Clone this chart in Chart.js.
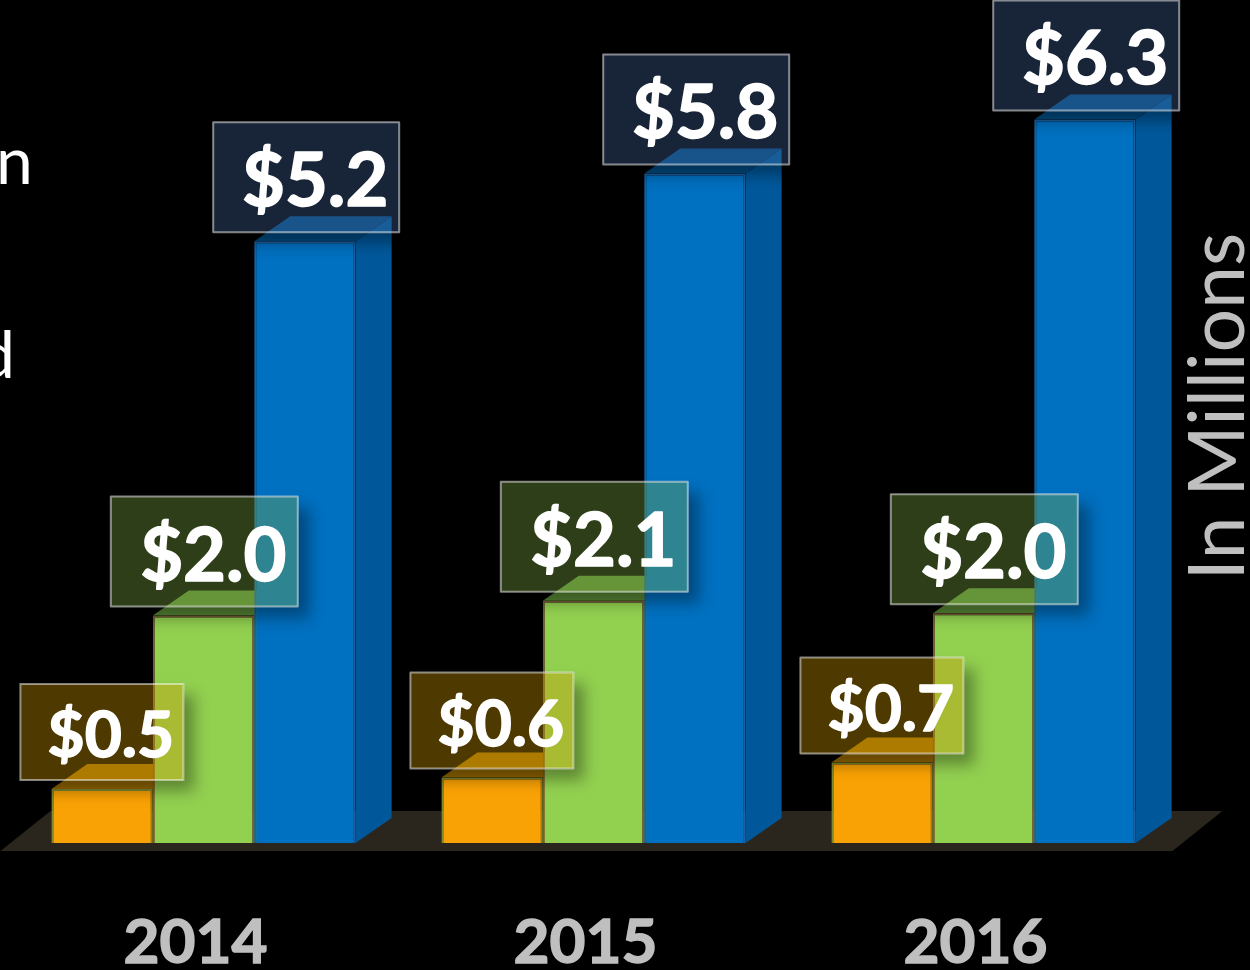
<!DOCTYPE html>
<html>
<head>
<meta charset="utf-8">
<title>Chart</title>
<script src="https://cdn.jsdelivr.net/npm/chart.js@4"></script>
<style>
  html, body { margin: 0; padding: 0; background: #000; overflow: hidden; }
  #wrap { width: 1250px; height: 970px; }
  #chart { filter: blur(0.5px); }
</style>
</head>
<body>
<div id="wrap"><canvas id="chart" width="1250" height="970"></canvas></div>
<script>
const years = ["2014", "2015", "2016"]
const orangeValues = [0.47, 0.57, 0.70]
const greenValues = [1.98, 2.11, 2.00]
const blueValues = [5.24, 5.83, 6.30]
const orangeLabels = ["$0.5", "$0.6", "$0.7"]
const greenLabels = ["$2.0", "$2.1", "$2.0"]
const blueLabels = ["$5.2", "$5.8", "$6.3"]
const axisNote = "In Millions"

const FONT = "Lato, Carlito, sans-serif"
const DEPTH_X = 36
const DEPTH_Y = 25

// per dataset look of the fake 3d faces and the value boxes
const looks = [
  { labels: orangeLabels, top: "#996b00", side: "#a87600", box: "rgba(208, 152, 0, 0.375)",
    boxW: 163, boxH: 96, boxLeft: 31, font: 64, textUp: 23 },
  { labels: greenLabels, top: "#5a8b36", side: "#5a8b36", box: "rgba(123, 165, 64, 0.375)",
    boxW: 187, boxH: 110, boxLeft: 42, font: 74, textUp: 26 },
  { labels: blueLabels, top: "#004c84", side: "#00589b", box: "rgba(64, 99, 149, 0.375)",
    boxW: 186, boxH: 110, boxLeft: 41, font: 74, textUp: 26 }
]

function poly(ctx, pts, color) {
  ctx.beginPath()
  pts.forEach((p, i) => (i ? ctx.lineTo(p[0], p[1]) : ctx.moveTo(p[0], p[1])))
  ctx.closePath()
  ctx.fillStyle = color
  ctx.fill()
}

const scenePlugin = {
  id: "scene",
  beforeDatasetsDraw(chart) {
    const ctx = chart.ctx
    const area = chart.chartArea
    const base = chart.scales.y.getPixelForValue(0)

    // floor under the bars
    poly(ctx, [
      [area.left - 8, base + 8],
      [area.right - 6, base + 8],
      [area.right + 44, base - 32],
      [area.left + 42, base - 32]
    ], "#2a261e")

    // top and side faces, the flat bars are drawn over them afterwards
    looks.forEach((look, d) => {
      chart.getDatasetMeta(d).data.forEach(bar => {
        const l = bar.x - bar.width / 2
        const r = bar.x + bar.width / 2
        poly(ctx, [
          [r, bar.y], [r + DEPTH_X, bar.y - DEPTH_Y],
          [r + DEPTH_X, base - DEPTH_Y], [r, base]
        ], look.side)
        poly(ctx, [
          [l, bar.y], [l + DEPTH_X, bar.y - DEPTH_Y],
          [r + DEPTH_X, bar.y - DEPTH_Y], [r, bar.y]
        ], look.top)
      })
    })
  },
  afterDatasetsDraw(chart) {
    const ctx = chart.ctx

    looks.forEach((look, d) => {
      chart.getDatasetMeta(d).data.forEach((bar, i) => {
        const boxX = bar.x - bar.width / 2 - look.boxLeft
        const boxBottom = bar.y - 9
        const boxY = boxBottom - look.boxH

        // soft shadow, only outside of the see-through box
        ctx.save()
        ctx.beginPath()
        ctx.rect(0, 0, chart.width, chart.height)
        ctx.rect(boxX, boxY, look.boxW, look.boxH)
        ctx.clip("evenodd")
        ctx.shadowColor = "rgba(0, 0, 0, 0.35)"
        ctx.shadowBlur = 14
        ctx.shadowOffsetX = 11
        ctx.shadowOffsetY = 11
        ctx.fillStyle = "#000"
        ctx.fillRect(boxX, boxY, look.boxW, look.boxH)
        ctx.restore()

        ctx.fillStyle = look.box
        ctx.fillRect(boxX, boxY, look.boxW, look.boxH)
        ctx.strokeStyle = "rgba(255, 255, 255, 0.5)"
        ctx.lineWidth = 2
        ctx.strokeRect(boxX, boxY, look.boxW, look.boxH)

        // lato bold is a bit thin next to the original, so stroke it too
        ctx.fillStyle = "#fff"
        ctx.strokeStyle = "#fff"
        ctx.lineWidth = 1.5
        ctx.lineJoin = "round"
        ctx.font = `bold ${look.font}px ${FONT}`
        ctx.textAlign = "center"
        ctx.textBaseline = "alphabetic"
        ctx.fillText(look.labels[i], boxX + look.boxW / 2 + 9, boxBottom - look.textUp)
        ctx.strokeText(look.labels[i], boxX + look.boxW / 2 + 9, boxBottom - look.textUp)
      })
    })

    // axis note, reads bottom to top
    ctx.save()
    ctx.translate(1244, 406.5)
    ctx.rotate(-Math.PI / 2)
    ctx.fillStyle = "#bfbfbf"
    ctx.font = `77px ${FONT}`
    ctx.textAlign = "center"
    ctx.textBaseline = "alphabetic"
    ctx.fillText(axisNote, 0, 0)
    ctx.restore()

    // cut off bits of the slide text at the left edge
    ctx.fillStyle = "#fff"
    ctx.font = `66px ${FONT}`
    ctx.textBaseline = "alphabetic"
    ctx.textAlign = "left"
    ctx.fillText("n", -4, 184)
    ctx.textAlign = "right"
    ctx.fillText("d", 15, 378)
  }
}

new Chart(document.getElementById("chart"), {
  type: "bar",
  data: {
    labels: years,
    datasets: [
      { data: orangeValues, backgroundColor: "#f9a205", borderColor: "#7d8a30", borderWidth: 2 },
      { data: greenValues, backgroundColor: "#92d050", borderColor: "#7a5a38", borderWidth: 2 },
      { data: blueValues, backgroundColor: "#0070c0", borderColor: "#1f5f9f", borderWidth: 2 }
    ]
  },
  plugins: [scenePlugin],
  options: {
    responsive: false,
    animation: false,
    layout: { padding: { left: 8.5, right: 71.5, top: 39, bottom: 0 } },
    datasets: { bar: { categoryPercentage: 0.78, barPercentage: 1 } },
    plugins: { legend: { display: false }, tooltip: { enabled: false } },
    scales: {
      x: {
        grid: { display: false },
        border: { display: false },
        afterFit: scale => { scale.height = 127 },
        ticks: {
          color: "#bfbfbf",
          padding: 55,
          labelOffset: -8,
          maxRotation: 0,
          textStrokeColor: "#bfbfbf",
          textStrokeWidth: 1.5,
          font: { family: FONT, size: 62, weight: "bold" }
        }
      },
      y: { display: false, min: 0, max: 7 }
    }
  }
})
</script>
</body>
</html>
